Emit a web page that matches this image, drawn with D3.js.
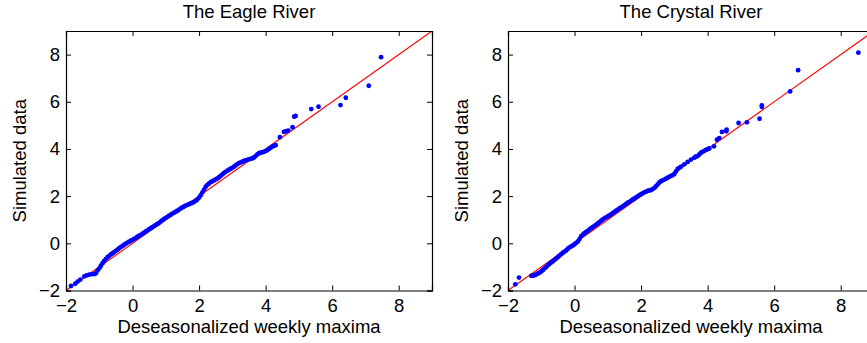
<!DOCTYPE html>
<html>
<head>
<meta charset="utf-8">
<script src="https://cdn.jsdelivr.net/npm/d3@7"></script>
<style>
  body { margin: 0; background: #fff; }
  svg { display: block; font-family: "Liberation Sans", Arial, Helvetica, sans-serif; }
</style>
</head>
<body>
<svg id="chart" width="867" height="343"></svg>
<script>
// QQ data: x = deseasonalized weekly maxima, y = simulated data
const eagleX = [
  -1.85, -1.72, -1.65, -1.57, -1.45, -1.38, -1.30, -1.22, -1.15, -1.10,
  -1.05, -1.00, -0.95, -0.90, -0.85, -0.80, -0.75, -0.70, -0.65, -0.60,
  -0.55, -0.50, -0.45, -0.40, -0.35, -0.30, -0.25, -0.20, -0.15, -0.10,
  -0.05, 0.00, 0.05, 0.10, 0.15, 0.20, 0.25, 0.30, 0.35, 0.40,
  0.45, 0.50, 0.55, 0.60, 0.65, 0.70, 0.75, 0.80, 0.85, 0.90,
  0.95, 1.00, 1.05, 1.10, 1.15, 1.20, 1.25, 1.30, 1.35, 1.40,
  1.45, 1.50, 1.55, 1.60, 1.65, 1.70, 1.75, 1.80, 1.85, 1.90,
  1.95, 2.00, 2.05, 2.10, 2.15, 2.20, 2.25, 2.30, 2.35, 2.40,
  2.45, 2.50, 2.55, 2.60, 2.65, 2.70, 2.75, 2.80, 2.85, 2.90,
  2.95, 3.00, 3.05, 3.10, 3.15, 3.20, 3.25, 3.30, 3.35, 3.40,
  3.45, 3.50, 3.55, 3.60, 3.65, 3.70, 3.75, 3.80, 3.85, 3.90,
  3.95, 4.00, 4.05, 4.10, 4.15, 4.20, 4.25, 4.30,
  4.43, 4.55, 4.62, 4.68, 4.81, 4.86, 4.90, 5.37, 5.59, 6.25, 6.41, 7.10, 7.47
]
const eagleY = [
  -1.81, -1.71, -1.62, -1.54, -1.40, -1.36, -1.33, -1.31, -1.30, -1.27,
  -1.15, -1.06, -0.95, -0.84, -0.74, -0.66, -0.59, -0.53, -0.47, -0.42,
  -0.37, -0.32, -0.27, -0.21, -0.16, -0.11, -0.06, -0.01, 0.03, 0.07,
  0.11, 0.15, 0.19, 0.23, 0.28, 0.32, 0.36, 0.41, 0.45, 0.50,
  0.55, 0.60, 0.64, 0.69, 0.73, 0.78, 0.82, 0.87, 0.93, 0.98,
  1.03, 1.08, 1.12, 1.17, 1.21, 1.26, 1.30, 1.34, 1.38, 1.43,
  1.48, 1.52, 1.56, 1.60, 1.63, 1.66, 1.69, 1.72, 1.76, 1.80,
  1.86, 1.94, 2.04, 2.16, 2.28, 2.40, 2.48, 2.54, 2.59, 2.63,
  2.67, 2.71, 2.75, 2.80, 2.86, 2.92, 2.98, 3.03, 3.08, 3.12,
  3.16, 3.20, 3.25, 3.30, 3.36, 3.40, 3.43, 3.46, 3.49, 3.52,
  3.54, 3.56, 3.58, 3.60, 3.64, 3.70, 3.77, 3.82, 3.84, 3.86,
  3.88, 3.91, 3.95, 4.00, 4.05, 4.10, 4.13, 4.16,
  4.50, 4.72, 4.76, 4.78, 4.92, 5.37, 5.40, 5.69, 5.79, 5.86, 6.17, 6.68, 7.89
]

const crystalX = [
  -1.78, -1.67,
  -1.30, -1.25, -1.20, -1.15, -1.10, -1.05, -1.00, -0.95, -0.90, -0.85,
  -0.80, -0.75, -0.70, -0.65, -0.60, -0.55, -0.50, -0.45, -0.40, -0.35,
  -0.30, -0.25, -0.20, -0.15, -0.10, -0.05, 0.00, 0.05, 0.10, 0.15,
  0.20, 0.25, 0.30, 0.35, 0.40, 0.45, 0.50, 0.55, 0.60, 0.65,
  0.70, 0.75, 0.80, 0.85, 0.90, 0.95, 1.00, 1.05, 1.10, 1.15,
  1.20, 1.25, 1.30, 1.35, 1.40, 1.45, 1.50, 1.55, 1.60, 1.65,
  1.70, 1.75, 1.80, 1.85, 1.90, 1.95, 2.00, 2.05, 2.10, 2.15,
  2.20, 2.25, 2.30, 2.35, 2.40, 2.45, 2.50, 2.55, 2.60, 2.65,
  2.70, 2.75, 2.80, 2.85, 2.90, 2.95, 3.00, 3.05, 3.10, 3.15,
  3.20, 3.30, 3.40, 3.50, 3.60, 3.65, 3.70, 3.75, 3.80, 3.85,
  3.90, 3.95, 4.00, 4.05, 4.19,
  4.28, 4.35, 4.43, 4.56, 4.57, 4.93, 5.18, 5.56, 5.63, 5.63, 6.48, 6.72, 8.53
]
const crystalY = [
  -1.74, -1.45,
  -1.38, -1.37, -1.35, -1.32, -1.28, -1.24, -1.19, -1.13, -1.06, -1.00,
  -0.93, -0.87, -0.81, -0.76, -0.70, -0.64, -0.58, -0.52, -0.46, -0.40,
  -0.35, -0.30, -0.23, -0.17, -0.13, -0.09, -0.04, 0.02, 0.08, 0.18,
  0.30, 0.37, 0.43, 0.48, 0.53, 0.59, 0.64, 0.69, 0.74, 0.79,
  0.84, 0.90, 0.96, 1.01, 1.06, 1.10, 1.14, 1.18, 1.23, 1.28,
  1.33, 1.38, 1.43, 1.48, 1.52, 1.57, 1.62, 1.67, 1.72, 1.76,
  1.81, 1.86, 1.90, 1.95, 1.99, 2.04, 2.08, 2.12, 2.16, 2.19,
  2.22, 2.24, 2.26, 2.30, 2.35, 2.42, 2.50, 2.58, 2.63, 2.67,
  2.70, 2.74, 2.78, 2.82, 2.86, 2.89, 2.94, 3.05, 3.15, 3.20,
  3.25, 3.35, 3.45, 3.55, 3.63, 3.68, 3.70, 3.77, 3.84, 3.88,
  3.92, 3.96, 3.99, 4.02, 4.11,
  4.39, 4.46, 4.72, 4.75, 4.82, 5.10, 5.13, 5.28, 5.78, 5.85, 6.44, 7.34, 8.08
]

const tickValues = [-2, 0, 2, 4, 6, 8]
const domain = [-2, 9]

const panels = [
  { title: 'The Eagle River', xs: eagleX, ys: eagleY, left: 66 },
  { title: 'The Crystal River', xs: crystalX, ys: crystalY, left: 508 }
]

const svg = d3.select('#chart')
const plotW = 366
const plotTop = 31
const plotBottom = 290.5
const fontSize = '18.5px'

panels.forEach((p, i) => {
  const x = d3.scaleLinear().domain(domain).range([p.left, p.left + plotW])
  const y = d3.scaleLinear().domain(domain).range([plotBottom, plotTop])
  const g = svg.append('g')
  const clipId = 'clip' + i

  g.append('clipPath').attr('id', clipId)
    .append('rect')
    .attr('x', x(-2)).attr('y', y(9))
    .attr('width', x(9) - x(-2)).attr('height', y(-2) - y(9))

  // reference line y = x
  g.append('line')
    .attr('clip-path', `url(#${clipId})`)
    .attr('x1', x(-2)).attr('y1', y(-2))
    .attr('x2', x(9)).attr('y2', y(9))
    .attr('stroke', '#ff0000')
    .attr('stroke-width', 1.1)

  // points
  g.append('g').attr('clip-path', `url(#${clipId})`)
    .selectAll('circle')
    .data(p.xs.map((v, k) => [v, p.ys[k]]))
    .join('circle')
    .attr('cx', d => x(d[0]))
    .attr('cy', d => y(d[1]))
    .attr('r', 2.4)
    .attr('fill', '#0000ff')

  // axes, ticks pointing inward on all four sides
  const axB = g.append('g').attr('transform', `translate(0,${plotBottom})`)
    .call(d3.axisBottom(x).tickValues(tickValues).tickSize(-5).tickPadding(8))
  const axL = g.append('g').attr('transform', `translate(${p.left},0)`)
    .call(d3.axisLeft(y).tickValues(tickValues).tickSize(-5).tickPadding(6))
  const axT = g.append('g').attr('transform', `translate(0,${plotTop})`)
    .call(d3.axisTop(x).tickValues(tickValues).tickSize(-5).tickFormat(''))
  const axR = g.append('g').attr('transform', `translate(${p.left + plotW},0)`)
    .call(d3.axisRight(y).tickValues(tickValues).tickSize(-5).tickFormat(''))

  ;[axB, axL, axT, axR].forEach(a => {
    a.select('.domain').attr('stroke', '#000').attr('stroke-width', 1.2)
    a.selectAll('.tick line').attr('stroke', '#000')
    a.selectAll('.tick text')
      .attr('fill', '#000')
      .style('font-size', fontSize)
      .style('font-family', '"Liberation Sans", Arial, sans-serif')
  })

  const cx = p.left + plotW / 2
  g.append('text')
    .attr('x', cx).attr('y', 18)
    .attr('text-anchor', 'middle')
    .style('font-size', fontSize)
    .text(p.title)

  g.append('text')
    .attr('x', cx).attr('y', 333)
    .attr('text-anchor', 'middle')
    .style('font-size', fontSize)
    .text('Deseasonalized weekly maxima')

  g.append('text')
    .attr('transform', `translate(${p.left - 40},${(plotTop + plotBottom) / 2}) rotate(-90)`)
    .attr('text-anchor', 'middle')
    .style('font-size', fontSize)
    .text('Simulated data')
})
</script>
</body>
</html>
